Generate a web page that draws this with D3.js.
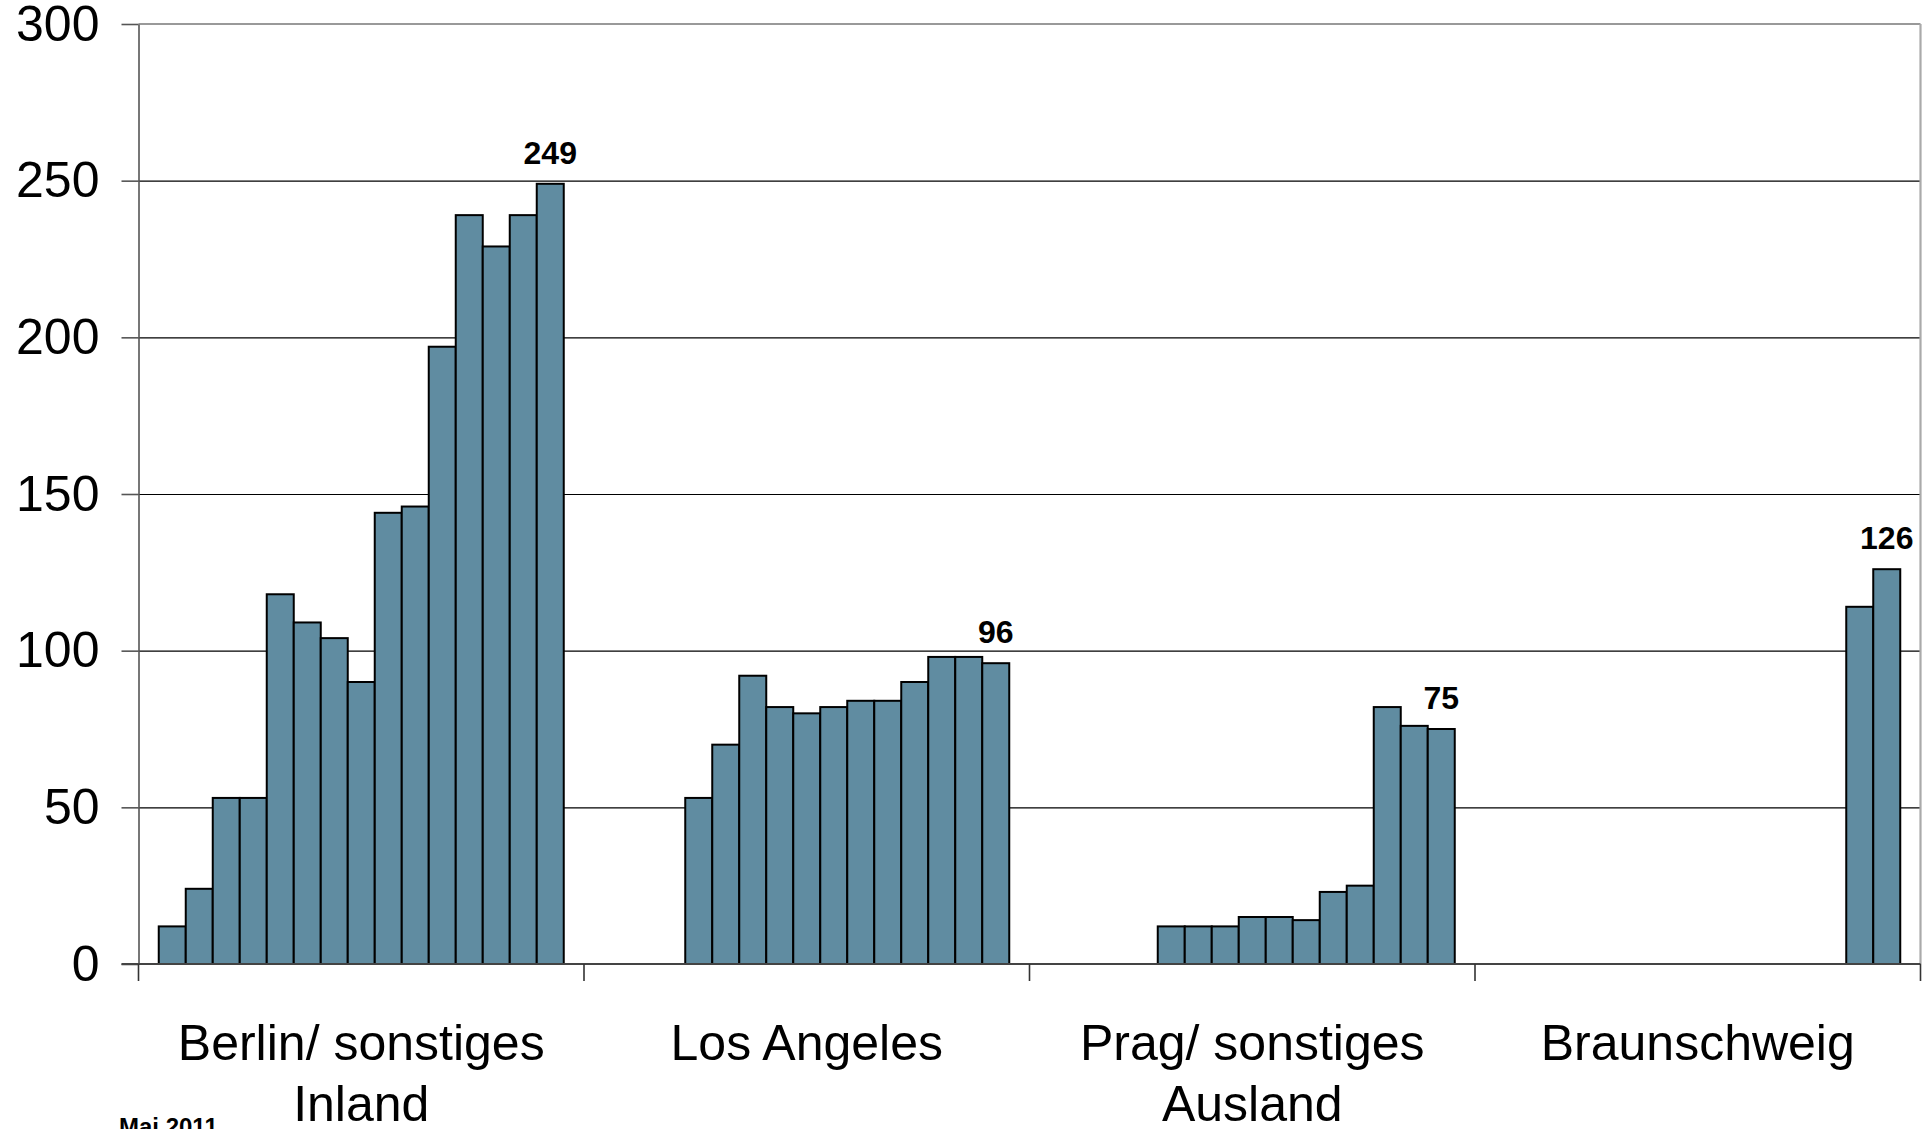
<!DOCTYPE html>
<html>
<head>
<meta charset="utf-8">
<script src="https://cdn.jsdelivr.net/npm/d3@7"></script>
<style>
  html, body { margin: 0; padding: 0; background: #ffffff; }
  svg { display: block; font-family: "Liberation Sans", Arial, sans-serif; }
</style>
</head>
<body>
<svg id="chart" width="1926" height="1129"></svg>
<script>
// ---- data ----
const categories = ["Berlin/ sonstiges Inland", "Los Angeles", "Prag/ sonstiges Ausland", "Braunschweig"];
const seriesCount = 15;
const berlinValues = [12, 24, 53, 53, 118, 109, 104, 90, 144, 146, 197, 239, 229, 239, 249];
const losAngelesValues = [null, null, null, 53, 70, 92, 82, 80, 82, 84, 84, 90, 98, 98, 96];
const pragValues = [null, null, null, null, 12, 12, 12, 15, 15, 14, 23, 25, 82, 76, 75];
const braunschweigValues = [null, null, null, null, null, null, null, null, null, null, null, null, null, 114, 126];
const yTicks = [0, 50, 100, 150, 200, 250, 300];
const footnote = "Mai 2011";

const groupValues = [berlinValues, losAngelesValues, pragValues, braunschweigValues];

// ---- layout ----
const plotLeft = 138.5, plotRight = 1920.5, plotTop = 24, plotBottom = 964;
const svg = d3.select("#chart");

const x = d3.scaleBand().domain(categories).range([plotLeft, plotRight]).padding(0);
const xs = d3.scaleBand().domain(d3.range(seriesCount)).range([0, x.bandwidth()])
  .paddingInner(0).paddingOuter(0.75);
const y = d3.scaleLinear().domain([0, 300]).range([plotBottom, plotTop]);

// gridlines
const grid = svg.append("g").attr("transform", `translate(${plotLeft},0)`)
  .call(d3.axisLeft(y).tickValues(yTicks.filter(v => v > 0 && v < 300)).tickSize(-(plotRight - plotLeft)).tickFormat(""));
grid.select(".domain").remove();
grid.selectAll("line").attr("stroke", "#000").attr("stroke-width", 1.2);

// plot border top/right (gray)
svg.append("line").attr("x1", plotLeft).attr("x2", plotRight).attr("y1", y(300)).attr("y2", y(300))
  .attr("stroke", "#999").attr("stroke-width", 2.2);
svg.append("line").attr("x1", plotRight).attr("x2", plotRight).attr("y1", y(300)).attr("y2", y(0))
  .attr("stroke", "#aaa").attr("stroke-width", 2.2);

// y axis with ticks and labels
const yAxis = svg.append("g").attr("transform", `translate(${plotLeft},0)`)
  .call(d3.axisLeft(y).tickValues(yTicks).tickSize(17).tickPadding(22).tickSizeOuter(0));
yAxis.select(".domain").attr("stroke", "#555").attr("stroke-width", 1.6);
yAxis.selectAll(".tick line").attr("stroke", "#555").attr("stroke-width", 1.6);
yAxis.selectAll(".tick text").attr("fill", "#000").attr("font-size", 50)
  .attr("font-family", "'Liberation Sans', Arial, sans-serif");

// bars
const barData = [];
categories.forEach((c, ci) => {
  groupValues[ci].forEach((v, si) => {
    if (v !== null) barData.push({ c, si, v });
  });
});
svg.append("g").selectAll("rect").data(barData).join("rect")
  .attr("x", d => x(d.c) + xs(d.si))
  .attr("y", d => y(d.v))
  .attr("width", xs.bandwidth())
  .attr("height", d => y(0) - y(d.v))
  .attr("fill", "#608CA1")
  .attr("stroke", "#000")
  .attr("stroke-width", 2);

// x axis line (zero)
svg.append("line").attr("x1", plotLeft - 17).attr("x2", plotRight).attr("y1", y(0)).attr("y2", y(0))
  .attr("stroke", "#444").attr("stroke-width", 2);

// category boundary ticks
const boundaries = categories.map(c => x(c)).concat([x(categories[categories.length - 1]) + x.bandwidth()]);
svg.append("g").selectAll("line").data(boundaries).join("line")
  .attr("x1", d => d).attr("x2", d => d)
  .attr("y1", y(0)).attr("y2", y(0) + 17)
  .attr("stroke", "#333").attr("stroke-width", 1.6);

// value labels above last bar of each group
categories.forEach((c, ci) => {
  const vals = groupValues[ci];
  const last = seriesCount - 1;
  const v = vals[last];
  svg.append("text")
    .attr("x", x(c) + xs(last) + xs.bandwidth() / 2)
    .attr("y", y(v) - 20)
    .attr("text-anchor", "middle")
    .attr("font-size", 32)
    .attr("font-weight", "bold")
    .attr("fill", "#000")
    .text(v);
});

// category labels with wrapping
const catG = svg.append("g");
categories.forEach(c => {
  const cx = x(c) + x.bandwidth() / 2;
  const t = catG.append("text")
    .attr("x", cx)
    .attr("y", 1060)
    .attr("text-anchor", "middle")
    .attr("font-size", 50)
    .attr("fill", "#000");
  const words = c.split(" ");
  let line = [];
  let tspan = t.append("tspan").attr("x", cx).attr("dy", 0);
  words.forEach(w => {
    line.push(w);
    tspan.text(line.join(" "));
    if (tspan.node().getComputedTextLength() > 420 && line.length > 1) {
      line.pop();
      tspan.text(line.join(" "));
      line = [w];
      tspan = t.append("tspan").attr("x", cx).attr("dy", 61).text(w);
    }
  });
});

// footnote
svg.append("text")
  .attr("x", 119)
  .attr("y", 1135)
  .attr("font-size", 24)
  .attr("font-weight", "bold")
  .attr("fill", "#000")
  .text(footnote);
</script>
</body>
</html>
